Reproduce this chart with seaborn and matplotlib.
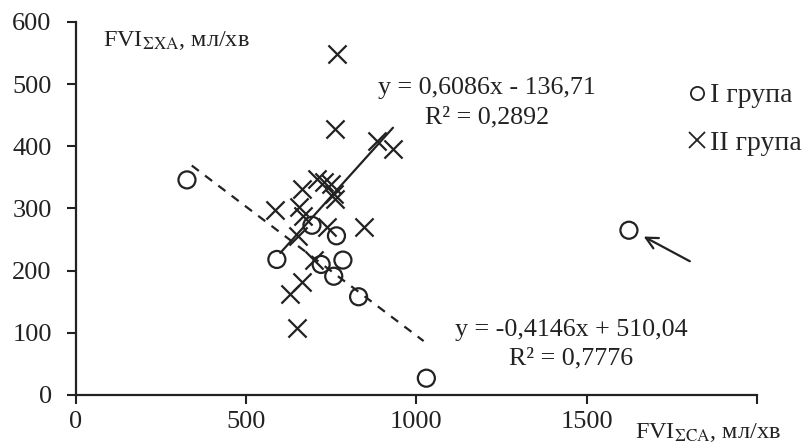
import matplotlib
matplotlib.use("Agg")
import matplotlib.pyplot as plt
from matplotlib.lines import Line2D
import seaborn as sns
import numpy as np
import pandas as pd

# I група (кола)
g1_x = [326, 693, 765, 590, 720, 784, 757, 830, 1029, 1624]
g1_y = [346, 273, 256, 218, 210, 217, 191, 158, 27, 265]
# II група (хрестики)
g2_x = [585, 664, 708, 727, 748, 757, 762, 654, 668, 737, 845, 653, 698, 664, 629, 650, 768, 760, 884, 931]
g2_y = [297, 332, 348, 343, 340, 324, 316, 303, 288, 271, 270, 255, 217, 182, 163, 108, 548, 428, 408, 395]

# лінії тренду (коефіцієнти з рисунка)
g1_slope, g1_icpt = -0.4146, 510.04
g2_slope, g2_icpt = 0.6086, -136.71
g1_text = "y = -0,4146x + 510,04\nR² = 0,7776"
g2_text = "y = 0,6086x - 136,71\nR² = 0,2892"

x_ticks = [0, 500, 1000, 1500, 2000]
x_labels = ["0", "500", "1000", "1500", ""]
y_ticks = [0, 100, 200, 300, 400, 500, 600]

sns.set_theme(style="white")
plt.rcParams['font.family'] = ['Liberation Serif', 'DejaVu Serif']
plt.rcParams['mathtext.fontset'] = 'stix'

ink = '#222222'

fig = plt.figure(figsize=(8.04, 4.45), dpi=100)
ax = fig.add_axes([0.0945, 0.1124, 0.847, 0.8382])

df1 = pd.DataFrame({'x': g1_x, 'y': g1_y})
df2 = pd.DataFrame({'x': g2_x, 'y': g2_y})

sns.scatterplot(data=df1, x='x', y='y', marker='o', s=150, color=ink, linewidth=1.6, ax=ax)
ax.collections[-1].set_facecolor('none')
ax.collections[-1].set_edgecolor(ink)
sns.scatterplot(data=df2, x='x', y='y', marker='x', s=170, color=ink, linewidth=1.6, ax=ax)

# тренд I групи (без викиду) - пунктир
fit1 = df1[df1['x'] < 1500]
xs1 = np.array([fit1['x'].min() + 14, fit1['x'].max() - 8])
ax.plot(xs1, g1_slope * xs1 + g1_icpt, color=ink, lw=1.6, ls=(0, (4, 3.5)))
# тренд II групи - суцільна
xs2 = np.array([min(g2_x) + 15, max(g2_x)])
ax.plot(xs2, g2_slope * xs2 + g2_icpt, color=ink, lw=1.6)

ax.text(1206, 470, g2_text, ha='center', va='center', fontsize=18.7, color=ink, linespacing=1.4)
ax.text(1455, 82, g1_text, ha='center', va='center', fontsize=18.7, color=ink, linespacing=1.4)

# стрілка до викиду
ax.annotate('', xy=(1660, 257), xytext=(1810, 213),
            arrowprops=dict(arrowstyle='->,head_length=0.7,head_width=0.35', color=ink, lw=1.6))

ax.set_xlim(0, 2000)
ax.set_ylim(0, 600)
ax.set_xticks(x_ticks)
ax.set_xticklabels(x_labels)
ax.set_yticks(y_ticks)
ax.set_xlabel('')
ax.set_ylabel('')
ax.tick_params(axis='both', which='both', direction='out', length=6.5, width=1.5,
               color=ink, labelsize=19, labelcolor=ink, left=True, bottom=True)
ax.tick_params(axis='y', pad=11)
ax.tick_params(axis='x', pad=5)
sns.despine(ax=ax)
for s in ['left', 'bottom']:
    ax.spines[s].set_linewidth(1.6)
    ax.spines[s].set_color(ink)

ax.text(80, 570, r'FVI$_{\mathrm{\Sigma XA}}$, мл/хв', fontsize=17.5, color=ink, va='center')
ax.text(1856, -60, r'FVI$_{\mathrm{\Sigma CA}}$, мл/хв', fontsize=17.5, color=ink,
        ha='center', va='center', clip_on=False)

handles = [
    Line2D([], [], marker='o', ls='none', mfc='none', mec=ink, ms=9.5, mew=1.3),
    Line2D([], [], marker='x', ls='none', color=ink, ms=11, mew=1.3),
]
ax.legend(handles, ['I група', 'II група'], loc='upper left',
          bbox_to_anchor=(689 / 804, 1 - 83 / 445), bbox_transform=fig.transFigure,
          frameon=False, fontsize=20, handlelength=0.6, handletextpad=0.15,
          labelspacing=0.78, borderaxespad=0, borderpad=0)

fig.savefig('out.png', dpi=100)
